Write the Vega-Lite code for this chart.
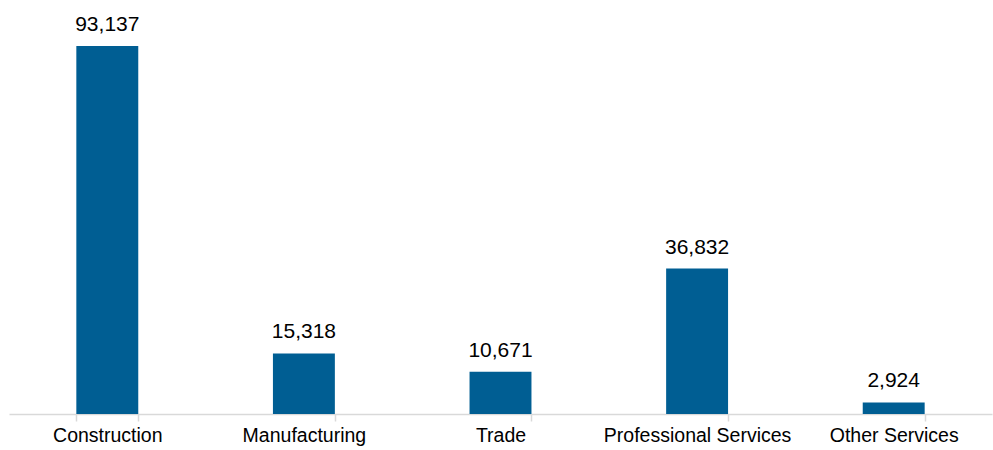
{
  "$schema": "https://vega.github.io/schema/vega-lite/v6.json",
  "width": 983,
  "height": 395,
  "autosize": {"type": "none"},
  "padding": {"left": 9, "top": 19, "right": 1, "bottom": 36},
  "background": "white",
  "config": {"view": {"stroke": null}, "font": "Liberation Sans"},
  "data": {
    "values": [
      {"sector": "Construction", "value": 93137},
      {"sector": "Manufacturing", "value": 15318},
      {"sector": "Trade", "value": 10671},
      {"sector": "Professional Services", "value": 36832},
      {"sector": "Other Services", "value": 2924}
    ]
  },
  "encoding": {
    "x": {
      "field": "sector",
      "type": "nominal",
      "sort": null,
      "scale": {"paddingInner": 0.685, "paddingOuter": 0.3425},
      "axis": {
        "title": null,
        "labelAngle": 0,
        "labelFont": "Liberation Sans",
        "labelFontSize": 19.5,
        "labelLimit": 0,
        "labelColor": "#000000",
        "labelPadding": 5,
        "domainColor": "#d9d9d9",
        "domainWidth": 1.5,
        "tickColor": "#d9d9d9",
        "tickWidth": 1.5,
        "tickSize": 7,
        "tickBand": "extent"
      }
    },
    "y": {
      "field": "value",
      "type": "quantitative",
      "scale": {"domain": [0, 100000]},
      "axis": null
    }
  },
  "layer": [
    {"mark": {"type": "bar", "color": "#005e93"}},
    {
      "mark": {"type": "text", "baseline": "alphabetic", "dy": -15, "fontSize": 21, "color": "#000000", "font": "Liberation Sans"},
      "encoding": {"text": {"field": "value", "type": "quantitative", "format": ","}}
    }
  ]
}
